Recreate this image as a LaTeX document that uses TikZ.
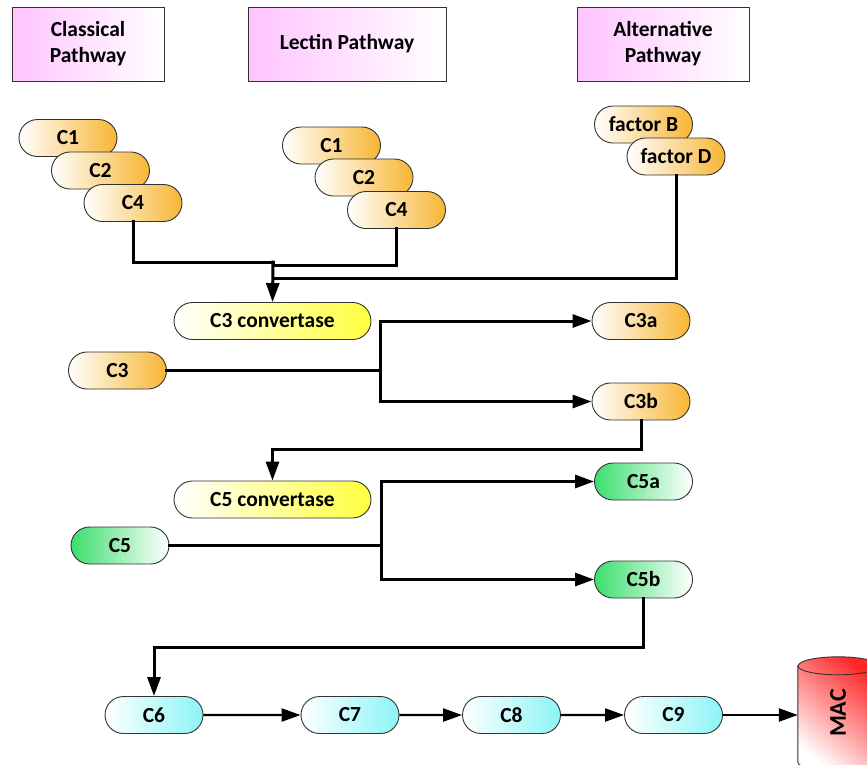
\documentclass[tikz,border=0pt]{standalone}
\usepackage{fontspec}
\setmainfont{Carlito}
\usetikzlibrary{arrows.meta,shapes.misc}

\definecolor{pinkA}{RGB}{255,196,255}
\definecolor{orangeA}{RGB}{247,182,52}
\definecolor{yellowA}{RGB}{255,255,60}
\definecolor{greenA}{RGB}{60,222,110}
\definecolor{cyanA}{RGB}{140,244,246}
\definecolor{redA}{RGB}{255,40,40}
\definecolor{edgeA}{RGB}{50,50,50}

\tikzset{
  pathbox/.style={rectangle, draw=edgeA, line width=1pt, minimum height=74pt,
    align=center, inner sep=2pt, font=\bfseries\fontsize{21.5}{26}\selectfont,
    left color=pinkA, right color=white},
  pill/.style={rounded rectangle, draw=edgeA, line width=0.9pt,
    minimum width=98pt, minimum height=37pt, inner sep=0pt,
    font=\bfseries\fontsize{21.5}{24}\selectfont},
  orangepill/.style={pill, left color=white, middle color=orangeA!35, right color=orangeA},
  yellowpill/.style={pill, minimum width=197pt, left color=white, middle color=yellowA!40, right color=yellowA},
  greenpill/.style={pill, left color=greenA, middle color=greenA!25, right color=white},
  cyanpill/.style={pill, left color=white, middle color=cyanA!40, right color=cyanA},
  flow/.style={line width=3pt, line cap=rect},
  flowarrow/.style={flow, -{Triangle[length=19pt,width=13pt]}},
  chainarrow/.style={line width=2.4pt, -{Triangle[length=19pt,width=13pt]}},
}

\begin{document}
\begin{tikzpicture}[x=1pt,y=-1pt]
\useasboundingbox (0,0) rectangle (867,764);
\clip (0,0) rectangle (867,764);

% pathway headers
\node[pathbox, minimum width=152pt] (classical) at (88,44) {Classical\\Pathway};
\node[pathbox, minimum width=198pt] (lectin) at (347,44) {Lectin Pathway};
\node[pathbox, minimum width=172pt] (alternative) at (663,44) {Alternative\\Pathway};

% classical pathway components
\node[orangepill] (cC1) at (68,138) {C1};
\node[orangepill] (cC2) at (100.5,170.5) {C2};
\node[orangepill] (cC4) at (133,203) {C4};

% lectin pathway components
\node[orangepill] (lC1) at (331.5,145.5) {C1};
\node[orangepill] (lC2) at (364,177.5) {C2};
\node[orangepill] (lC4) at (396.5,210) {C4};

% alternative pathway components
\node[orangepill] (fB) at (643.5,124.5) {factor B};
\node[orangepill] (fD) at (676,156.5) {factor D};

% C3 stage
\node[yellowpill] (c3conv) at (272.5,321) {C3 convertase};
\node[orangepill] (c3) at (117.5,370.5) {C3};
\node[orangepill] (c3a) at (641,321) {C3a};
\node[orangepill] (c3b) at (641,401.5) {C3b};

% C5 stage
\node[yellowpill] (c5conv) at (272.5,499.5) {C5 convertase};
\node[greenpill] (c5) at (120,545.5) {C5};
\node[greenpill] (c5a) at (643.5,481.5) {C5a};
\node[greenpill] (c5b) at (643.5,579.5) {C5b};

% terminal pathway
\node[cyanpill] (c6) at (154,715) {C6};
\node[cyanpill] (c7) at (350,715) {C7};
\node[cyanpill] (c8) at (511.5,715) {C8};
\node[cyanpill] (c9) at (673.5,715) {C9};

% membrane attack complex (cylinder)
\node[rectangle, minimum width=80pt, minimum height=96pt, inner sep=0pt] (mac) at (838,714) {};
\path[draw=edgeA, line width=0.9pt, shading=axis, top color=redA, middle color=redA!12,
      bottom color=white, shading angle=-40]
  (mac.north west) -- (mac.south west) arc (180:360:40pt and 9pt)
  -- (mac.north east) arc (0:180:40pt and 9pt) -- cycle;
\draw[edgeA, line width=0.9pt] (mac.north west) arc (180:360:40pt and 9pt);
\node[rotate=90, font=\bfseries\fontsize{24}{26}\selectfont] (maclabel) at (838,713) {MAC};

% junction points
\coordinate (m1) at (273,262);
\coordinate (m2) at (273,265);
\coordinate (m3) at (273,278);
\coordinate (b1) at (380,370.5);
\coordinate (b2) at (381,545.5);

% pathways converge on C3 convertase
\draw[flow] (cC4.south) |- (m1);
\draw[flow] (lC4.south) |- (m2);
\draw[flow] (fD.south) |- (m3);
\draw[flowarrow] (m1) -- (c3conv.north);

% C3 cleavage
\draw[flow] (c3.east) -- (b1);
\draw[flowarrow] (b1) |- (c3a.west);
\draw[flowarrow] (b1) |- (c3b.west);
\draw[flowarrow] (c3b.south) -- ++(0,29) -| (c5conv.north);

% C5 cleavage
\draw[flow] (c5.east) -- (b2);
\draw[flowarrow] (b2) |- (c5a.west);
\draw[flowarrow] (b2) |- (c5b.west);
\draw[flowarrow] (c5b.south) -- ++(0,49) -| (c6.north);

% assembly chain
\draw[chainarrow] (c6) -- (c7);
\draw[chainarrow] (c7) -- (c8);
\draw[chainarrow] (c8) -- (c9);
\draw[chainarrow] (c9.east) -- (c9.east -| mac.west);
\end{tikzpicture}
\end{document}
